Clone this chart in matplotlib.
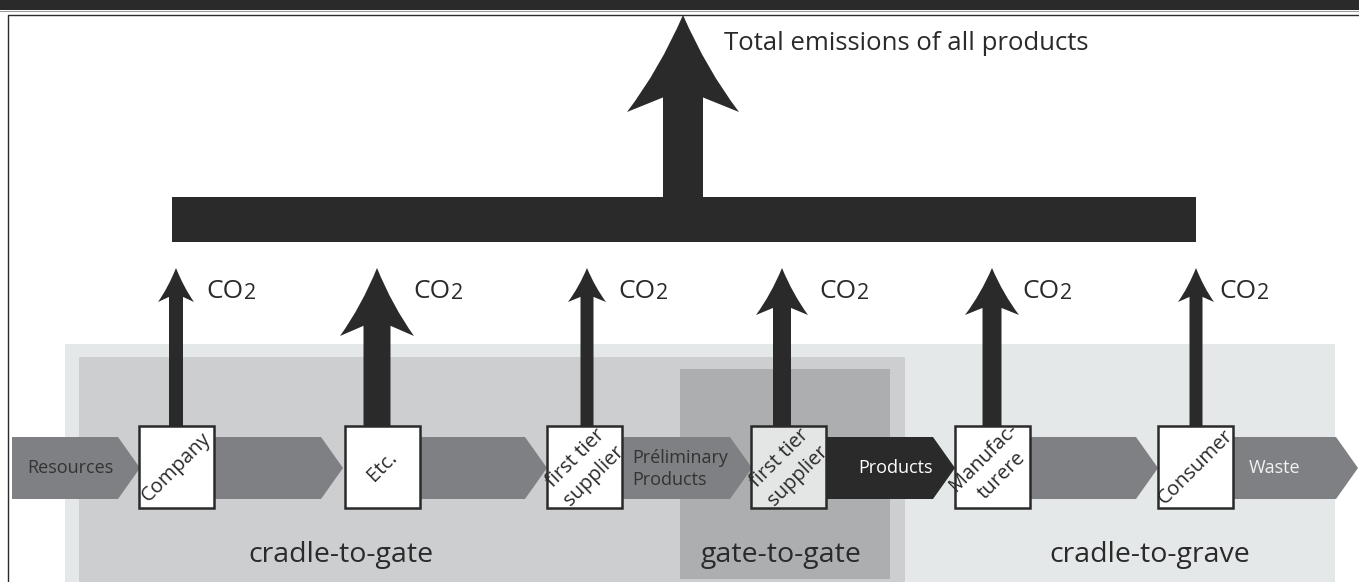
import matplotlib
matplotlib.use("Agg")
import matplotlib.pyplot as plt
from matplotlib.patches import Rectangle, Polygon, PathPatch
from matplotlib.path import Path

plt.rcParams['font.family'] = ['Open Sans', 'DejaVu Sans']

DARK = '#2a2a2a'
FLOW_GREY = '#7f8083'

# process steps (boxes) and the flows between them
steps = ["Company", "Etc.", "first tier\nsupplier", "first tier\nsupplier",
         "Manufac-\nturere", "Consumer"]
step_fill = ['white', 'white', 'white', '#e4e6e6', 'white', 'white']
flows = ["Resources", "", "", "Préliminary\nProducts", "Products", "", "Waste"]
flow_fill = [FLOW_GREY, FLOW_GREY, FLOW_GREY, FLOW_GREY, DARK, FLOW_GREY, FLOW_GREY]
flow_text = ['#333333', 'white', 'white', '#333333', 'white', 'white', '#f2f2f2']

# CO2 arrow sizes per step (shaft width, head half width, head length) in px
shaft_w = [14, 27, 13, 18, 19, 13]
head_hw = [18, 37, 19, 26, 27, 18]
head_len = [34, 68, 34, 47, 47, 34]

regions = ["cradle-to-gate", "gate-to-gate", "cradle-to-grave"]

# layout (pixels)
box_left = [139, 345, 547, 751, 955, 1158]
box_w = 75
box_top, box_bot = 426, 508
arrow_x = [176, 377, 587, 782, 992, 1196]
co2_x = [206, 413, 618, 819, 1022, 1219]
flow_start = [12, 215, 419, 622, 826, 1029, 1232]
flow_tip = [140, 343, 547, 752, 955, 1158, 1358]
flow_label_x = [70, 0, 0, 632, 895, 0, 1275]
flow_top, flow_bot = 437, 499
region_x = [341, 781, 1150]


def up_arrow(ax, cx, base_y, tip_y, sw, hw, hl, z=3):
    barb_y = tip_y + hl
    join_y = barb_y - 0.15 * hl
    s = sw / 2
    verts = [(cx, tip_y),
             (cx + hw * 0.42, tip_y + hl * 0.56), (cx + hw, barb_y),
             (cx + s, join_y), (cx + s, base_y), (cx - s, base_y), (cx - s, join_y),
             (cx - hw, barb_y),
             (cx - hw * 0.42, tip_y + hl * 0.56), (cx, tip_y),
             (cx, tip_y)]
    codes = [Path.MOVETO, Path.CURVE3, Path.CURVE3,
             Path.LINETO, Path.LINETO, Path.LINETO, Path.LINETO, Path.LINETO,
             Path.CURVE3, Path.CURVE3, Path.CLOSEPOLY]
    ax.add_patch(PathPatch(Path(verts, codes), facecolor=DARK, edgecolor='none', zorder=z))


fig = plt.figure(figsize=(13.59, 5.82), dpi=100)
ax = fig.add_axes([0, 0, 1, 1])
ax.set_xlim(0, 1359)
ax.set_ylim(582, 0)
ax.axis('off')

# top strip and frame
ax.add_patch(Rectangle((0, 0), 1359, 10, facecolor=DARK, edgecolor='none'))
ax.plot([0, 1359], [10.8, 10.8], color='#9a9a9a', lw=0.8)
ax.plot([7.8, 7.8, 1359], [582, 14.8, 14.8], color=DARK, lw=1.0)

# life cycle regions
ax.add_patch(Rectangle((65, 344), 1270, 250, facecolor='#e5e8e8', edgecolor='none', zorder=1))
ax.add_patch(Rectangle((79, 357), 826, 240, facecolor='#cdced0', edgecolor='none', zorder=1))
ax.add_patch(Rectangle((680, 369), 210, 210, facecolor='#adaeb0', edgecolor='none', zorder=1))
for name, x in zip(regions, region_x):
    ax.text(x, 562, name, ha='center', va='baseline', fontsize=20.5, color=DARK, zorder=5)

# total emissions bar and big arrow
ax.add_patch(Rectangle((172, 197), 1024, 45, facecolor=DARK, edgecolor='none', zorder=3))
up_arrow(ax, 683, 200, 15, 40, 56, 97)
ax.text(724, 50, "Total emissions of all products", ha='left', va='baseline',
        fontsize=18.5, color=DARK)

# flows (chevrons)
for i, label in enumerate(flows):
    x0, xt = flow_start[i], flow_tip[i]
    xs = xt - 22
    ym = (flow_top + flow_bot) / 2
    ax.add_patch(Polygon([(x0, flow_top), (xs, flow_top), (xt, ym), (xs, flow_bot), (x0, flow_bot)],
                         closed=True, facecolor=flow_fill[i], edgecolor='none', zorder=2))
    if label:
        if "\n" in label:
            ax.text(flow_label_x[i], ym + 1, label, ha='left', va='center', fontsize=13,
                    color=flow_text[i], linespacing=1.3, zorder=4)
        else:
            ax.text(flow_label_x[i], 473, label, ha='center', va='baseline',
                    fontsize=13, color=flow_text[i], zorder=4)

# steps with CO2 arrows
for i, label in enumerate(steps):
    up_arrow(ax, arrow_x[i], box_top + 2, 268, shaft_w[i], head_hw[i], head_len[i])
    co = ax.text(co2_x[i], 298, "CO", ha='left', va='baseline', fontsize=19, color=DARK)
    ax.annotate("2", xy=(1, 0), xycoords=co, xytext=(0.5, 0), textcoords='offset points',
                ha='left', va='bottom', fontsize=15.5, color=DARK)

    box = Rectangle((box_left[i], box_top), box_w, box_bot - box_top, facecolor=step_fill[i],
                    edgecolor=DARK, lw=1.8, zorder=3)
    ax.add_patch(box)
    t = ax.text(box_left[i] + box_w / 2, (box_top + box_bot) / 2, label, rotation=45,
                rotation_mode='anchor', ha='center', va='center', multialignment='center',
                fontsize=14.5, color=DARK, linespacing=1.4, zorder=4)
    t.set_clip_path(box)

fig.savefig("out.png", dpi=100)
